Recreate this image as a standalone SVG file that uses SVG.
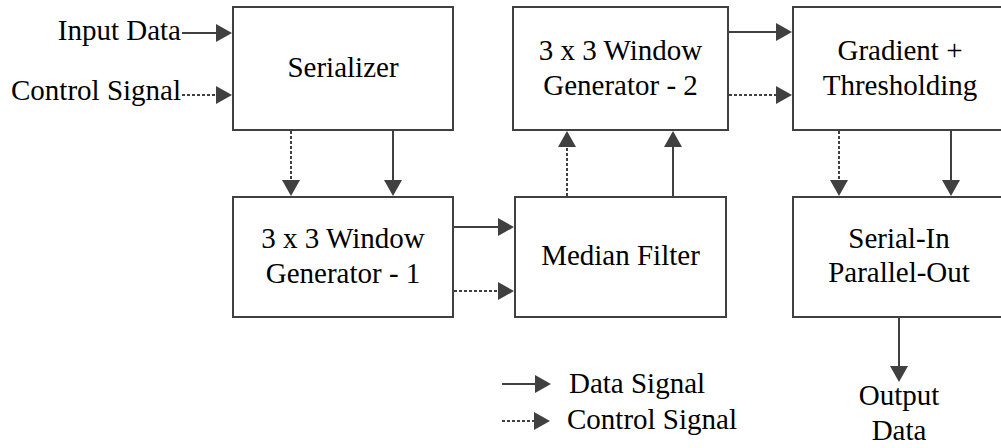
<svg xmlns="http://www.w3.org/2000/svg" width="1001" height="448" viewBox="0 0 1001 448">
<style>
.box{fill:#fff;stroke:#404040;stroke-width:2}
text{font-family:'Liberation Serif','DejaVu Serif Condensed','DejaVu Serif',serif;font-size:29px;fill:#000}
.t{text-anchor:middle}
.te{text-anchor:end}
.ts{text-anchor:start}
.d{stroke:#404040;stroke-width:2;fill:none;marker-end:url(#ah)}
.c{stroke:#404040;stroke-width:2;fill:none;stroke-dasharray:3 2;marker-end:url(#ah)}
</style>
<defs>
<marker id="ah" viewBox="0 0 16 18" refX="8" refY="9" markerWidth="16" markerHeight="18" markerUnits="userSpaceOnUse" orient="auto">
<path d="M0,0 L16,9 L0,18 z" fill="#404040"/>
</marker>
</defs>
<rect width="1001" height="448" fill="#fff"/>
<g id="serializer"><rect class="box" x="233" y="7" width="220" height="123"/><text class="t" x="343" y="77">Serializer</text></g>
<g id="window1"><rect class="box" x="233" y="197" width="220" height="120"/><text class="t" x="343" y="248">3 x 3 Window</text><text class="t" x="343" y="283">Generator - 1</text></g>
<g id="median"><rect class="box" x="515" y="197" width="211" height="120"/><text class="t" x="620.5" y="265">Median Filter</text></g>
<g id="window2"><rect class="box" x="513" y="7" width="215" height="123"/><text class="t" x="620.5" y="60">3 x 3 Window</text><text class="t" x="620.5" y="95">Generator - 2</text></g>
<g id="gradient"><rect class="box" x="793" y="7" width="212" height="123"/><text class="t" x="900" y="60">Gradient +</text><text class="t" x="900" y="95">Thresholding</text></g>
<g id="sipo"><rect class="box" x="793" y="197" width="212" height="120"/><text class="t" x="899" y="248">Serial-In</text><text class="t" x="899" y="282">Parallel-Out</text></g>
<g id="labels">
<text class="te" x="181" y="40">Input Data</text>
<text class="te" x="181" y="100">Control Signal</text>
<text class="t" x="899" y="405">Output</text>
<text class="t" x="899" y="440">Data</text>
<text class="ts" x="569" y="393">Data Signal</text>
<text class="ts" x="567" y="429">Control Signal</text>
</g>
<g id="connectors">
<line class="d" x1="182" y1="33" x2="224" y2="33"/>
<line class="c" x1="182" y1="95" x2="224" y2="95"/>
<line class="c" x1="291" y1="131" x2="291" y2="188"/>
<line class="d" x1="393" y1="131" x2="393" y2="188"/>
<line class="d" x1="454" y1="227" x2="506" y2="227"/>
<line class="c" x1="454" y1="291" x2="506" y2="291"/>
<line class="c" x1="567" y1="196" x2="567" y2="139"/>
<line class="d" x1="673" y1="196" x2="673" y2="139"/>
<line class="d" x1="729" y1="32" x2="784" y2="32"/>
<line class="c" x1="729" y1="95" x2="784" y2="95"/>
<line class="c" x1="839" y1="131" x2="839" y2="188"/>
<line class="d" x1="951" y1="131" x2="951" y2="188"/>
<line class="d" x1="899" y1="318" x2="899" y2="374"/>
<line class="d" x1="502" y1="384" x2="543" y2="384"/>
<line class="c" x1="502" y1="421" x2="542" y2="421"/>
</g>
</svg>
